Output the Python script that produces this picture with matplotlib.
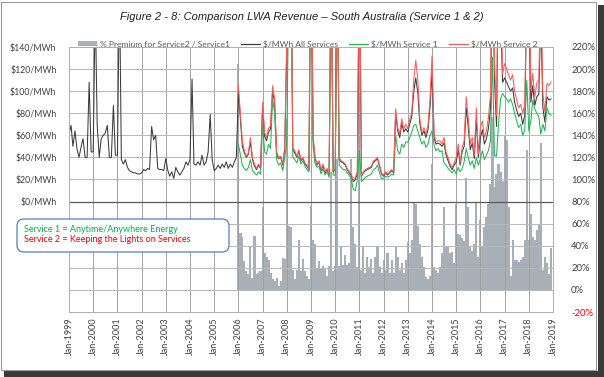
import pandas as pd
import matplotlib
matplotlib.use("Agg")
import matplotlib.pyplot as plt
import matplotlib.patches as mpatches
from matplotlib.lines import Line2D
from matplotlib.transforms import IdentityTransform

plt.rcParams['font.family'] = ['Lato', 'DejaVu Sans']

# ---------------------
# DATA ($/MWh monthly, % premium)
# ---------------------
all_services = [
    # 1999
    61, 69, 50, 64, 48, 40, 49, 57, 40, 40, 108, 45,
    # 2000
    45, 180, 70, 40, 57, 60, 62, 69, 40, 40, 87, 42,
    # 2001
    42, 200, 38, 34, 38, 31, 28, 27, 26, 26, 25, 25,
    # 2002
    26, 29, 28, 30, 29, 68, 56, 60, 30, 29, 29, 28,
    # 2003
    39, 28, 23, 27, 21, 31, 27, 24, 27, 30, 36, 33,
    # 2004
    38, 111, 34, 33, 36, 33, 42, 33, 36, 45, 79, 38,
    # 2005
    28, 30, 33, 30, 34, 31, 36, 30, 34, 31, 36, 40,
    # 2006
    100, 74, 50, 44, 40, 43, 54, 38, 32, 29, 33, 30,
    # 2007
    86, 59, 55, 63, 66, 100, 90, 43, 39, 40, 33, 47,
    # 2008
    140, 280, 250, 47, 44, 40, 46, 37, 39, 34, 32, 29,
    # 2009
    280, 57, 40, 33, 36, 28, 33, 26, 29, 24, 230, 27,
    # 2010
    29, 230, 38, 36, 35, 33, 29, 26, 24, 18, 20, 26,
    # 2011
    230, 23, 26, 28, 29, 30, 31, 36, 37, 39, 32, 25,
    # 2012
    23, 26, 24, 26, 28, 26, 80, 64, 58, 71, 63, 66,
    # 2013
    63, 71, 77, 100, 112, 98, 71, 60, 64, 58, 65, 85,
    # 2014
    117, 58, 52, 53, 52, 50, 53, 42, 37, 32, 29, 33,
    # 2015
    36, 47, 33, 45, 50, 85, 68, 47, 53, 39, 75, 40,
    # 2016
    58, 65, 52, 57, 66, 84, 230, 110, 68, 220, 170, 108,
    # 2017
    112, 108, 104, 100, 103, 90, 83, 77, 80, 70, 78, 180,
    # 2018
    200, 90, 105, 87, 95, 97, 170, 85, 72, 95, 92, 93,
]

service2 = [
    105, 78, 55, 46, 41, 44, 58, 40, 34, 30, 34, 31,
    90, 62, 58, 66, 69, 105, 93, 45, 40, 41, 34, 49,
    150, 300, 250, 49, 46, 41, 47, 38, 40, 35, 33, 30,
    300, 60, 41, 34, 37, 29, 34, 27, 30, 25, 250, 28,
    30, 250, 40, 37, 36, 34, 30, 27, 25, 19, 22, 27,
    250, 24, 27, 29, 30, 31, 32, 37, 38, 40, 33, 26,
    24, 27, 25, 27, 29, 27, 84, 67, 61, 75, 66, 70,
    66, 75, 81, 110, 128, 110, 75, 63, 67, 61, 69, 92,
    132, 61, 54, 55, 55, 52, 58, 45, 40, 34, 31, 35,
    40, 52, 35, 49, 55, 95, 76, 52, 58, 42, 85, 43,
    67, 73, 58, 64, 76, 96, 250, 128, 78, 250, 200, 116,
    125, 120, 115, 110, 115, 100, 92, 85, 88, 80, 88, 200,
    250, 101, 116, 95, 107, 110, 200, 98, 81, 107, 105, 108,
]

service1 = [
    52, 42, 33, 30, 28, 31, 38, 28, 26, 24, 27, 25,
    69, 45, 43, 52, 48, 93, 80, 38, 33, 35, 28, 40,
    55, 200, 250, 40, 38, 35, 41, 34, 37, 32, 29, 27,
    250, 50, 35, 31, 32, 25, 30, 24, 27, 22, 200, 24,
    24, 200, 33, 31, 29, 29, 26, 24, 20, 11, 10, 20,
    46, 18, 20, 22, 23, 24, 25, 29, 30, 33, 26, 21,
    21, 23, 22, 23, 25, 24, 60, 46, 43, 52, 49, 54,
    54, 58, 63, 69, 70, 64, 58, 52, 55, 49, 52, 60,
    64, 51, 46, 48, 45, 46, 35, 33, 30, 28, 26, 29,
    25, 31, 27, 30, 36, 48, 40, 33, 37, 30, 40, 33,
    39, 46, 38, 42, 46, 55, 131, 42, 41, 70, 93, 98,
    95, 93, 90, 93, 88, 80, 73, 67, 70, 60, 65, 110,
    64, 73, 92, 84, 80, 77, 61, 70, 64, 85, 80, 78,
]

premium = [
    205, 52, 48, 26, 17, 14, 40, 11, 49, 14, 15, 17,
    75, 33, 30, 27, 15, 10, 8, 11, 4, 8, 29, 28,
    155, 58, 57, 18, 10, 18, 45, 17, 28, 17, 13, 10,
    76, 45, 42, 20, 26, 20, 22, 19, 13, 22, 107, 17,
    22, 119, 22, 40, 23, 32, 23, 24, 119, 57, 42, 21,
    250, 18, 39, 15, 30, 21, 28, 15, 30, 40, 21, 15,
    27, 18, 33, 15, 27, 15, 39, 30, 18, 24, 15, 27,
    43, 33, 45, 80, 78, 58, 42, 30, 21, 12, 10, 13,
    114, 21, 18, 15, 21, 33, 75, 40, 39, 33, 34, 24,
    78, 51, 50, 47, 44, 101, 75, 40, 35, 42, 80, 30,
    63, 40, 57, 66, 78, 96, 157, 93, 105, 114, 107, 99,
    139, 136, 75, 13, 45, 27, 27, 25, 27, 30, 45, 127,
    45, 69, 48, 45, 54, 60, 133, 18, 30, 24, 14, 38,
]

dates_all = pd.date_range("1999-01-01", periods=len(all_services), freq="MS")
dates_svc = pd.date_range("2006-01-01", periods=len(service1), freq="MS")
year_ticks = pd.date_range("1999-01-01", "2019-01-01", freq="YS")
tick_labels = [d.strftime("Jan-%Y") for d in year_ticks]

left_ticks = list(range(-100, 141, 20))
right_ticks = list(range(-20, 221, 20))

# ---------------------
# FIGURE
# ---------------------
W, H = 604, 377
fig = plt.figure(figsize=(W / 100, H / 100), dpi=100)
fig.patch.set_facecolor("white")

# outer chart frame + shadow (kept behind the axes)
fig.add_artist(mpatches.Rectangle((4, 0), W - 4, 6, transform=IdentityTransform(),
                                  facecolor="#3a3a3a", edgecolor="none", zorder=-10))
fig.add_artist(mpatches.Rectangle((W - 6, 0), 6, H - 5, transform=IdentityTransform(),
                                  facecolor="#3a3a3a", edgecolor="none", zorder=-10))
fig.add_artist(mpatches.Rectangle((1, 7), W - 9, H - 9, transform=IdentityTransform(),
                                  facecolor="white", edgecolor="#9a9a9a", lw=0.8,
                                  zorder=-9))

rect = [69 / W, (H - 312) / H, 484 / W, 265 / H]
ax = fig.add_axes(rect)
axb = ax.twinx()
axb.set_zorder(1)
ax.set_zorder(2)
ax.patch.set_visible(False)
axb.patch.set_visible(False)

bar_color = "#a8afb7"
axb.bar(dates_svc, premium, width=32, color=bar_color, linewidth=0, align="center")
axb.set_ylim(-20, 220)
axb.set_yticks(right_ticks)
axb.set_yticklabels([f"{v}%" for v in right_ticks], fontsize=6.8, color="#404040")
axb.get_yticklabels()[0].set_color("#ff0000")

ax.plot(dates_all, all_services, color="#3c3c3c", lw=0.75)
ax.plot(dates_svc, service1, color="#22b455", lw=0.75)
ax.plot(dates_svc, service2, color="#ff5a5a", lw=0.75)
ax.axhline(0, color="#5a5a5a", lw=0.9, zorder=1)

ax.set_ylim(-100, 140)
ax.set_yticks(left_ticks)
ax.set_yticklabels([f"${v}/MWh" if v >= 0 else "" for v in left_ticks],
                   fontsize=6.3, color="#404040")
ax.set_xlim(year_ticks[0], year_ticks[-1])
ax.set_xticks(year_ticks)
ax.set_xticklabels(tick_labels, rotation=90, fontsize=6.5, color="#404040")

ax.set_axisbelow(True)
ax.grid(axis="y", color="#b8b8b8", lw=0.7)
ax.grid(axis="x", color="#a0a0a0", lw=0.7)
for a in (ax, axb):
    for s in a.spines.values():
        s.set_color("#b0b0b0")
        s.set_linewidth(0.7)
    a.tick_params(length=0)
ax.tick_params(axis="y", pad=9)
axb.tick_params(axis="y", pad=13)
ax.tick_params(axis="x", pad=4)

# ---------------------
# TITLE / LEGEND / NOTE
# ---------------------
fig.text(0.5, 1 - 17 / H,
         "Figure 2 - 8: Comparison LWA Revenue \u2013 South Australia (Service 1 & 2)",
         ha="center", va="center", fontsize=8.0, style="italic",
         family="Liberation Sans", color="#202020")

handles = [
    mpatches.Patch(facecolor=bar_color, edgecolor="none"),
    Line2D([], [], color="#3c3c3c", lw=0.9),
    Line2D([], [], color="#22b455", lw=0.9),
    Line2D([], [], color="#ff5a5a", lw=0.9),
]
labels = ["% Premium for Service2 / Service1", "$/MWh All Services",
          "$/MWh Service 1", "$/MWh Service 2"]
leg = fig.legend(handles, labels, loc="center", bbox_to_anchor=(308 / W, 1 - 44 / H),
                 ncol=4, frameon=False, fontsize=6.1, handlelength=2.2,
                 handleheight=0.6, handletextpad=0.4, columnspacing=1.3)
for t in leg.get_texts():
    t.set_color("#595959")

fig.add_artist(mpatches.FancyBboxPatch((17, H - 252), 212, 33,
                                       boxstyle="round,pad=0,rounding_size=7",
                                       transform=IdentityTransform(),
                                       facecolor="white", edgecolor="#5b7cbd", lw=0.9,
                                       zorder=5))
fig.text(24 / W, 1 - 229 / H, "Service 1 = Anytime/Anywhere Energy",
         color="#00b050", fontsize=6.5, va="center", zorder=6)
fig.text(24 / W, 1 - 240 / H, "Service 2 = Keeping the Lights on Services",
         color="#ff0000", fontsize=6.5, va="center", zorder=6)

fig.savefig("out.png", dpi=100)
